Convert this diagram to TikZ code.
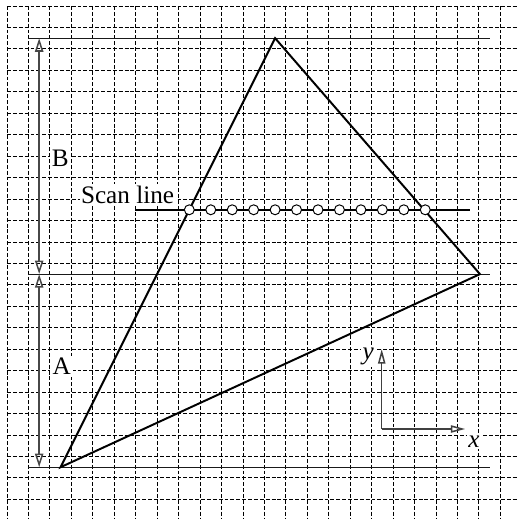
\documentclass[tikz,border=0pt]{standalone}
\usepackage{fontspec}
\setmainfont{Liberation Serif}
\usetikzlibrary{arrows.meta}
\begin{document}
\begin{tikzpicture}[x=0.5cm,y=-0.5cm,
  gridline/.style={black, line width=0.55pt, dash pattern=on 2.6pt off 1.3pt},
  edge/.style={black, line width=1.3pt, line join=miter},
  refline/.style={black!90, line width=0.7pt},
  dimline/.style={black!72, line width=1pt, {Triangle[open,length=9pt,width=5.5pt]}-{Triangle[open,length=9pt,width=5.5pt]}},
  axisline/.style={black!75, line width=1pt, -{Triangle[open,length=9.5pt,width=4.8pt]}},
  scanline/.style={black, line width=1.3pt},
  sample/.style={circle, draw=black, fill=white, line width=0.65pt, minimum size=6.6pt, inner sep=0pt},
  lbl/.style={font=\fontsize{16.7}{20}\selectfont, fill=white, inner sep=1.5pt},
]
\useasboundingbox (-0.326,-0.28) rectangle (23.823,23.916);
% grid
\foreach \i in {0,...,23} {
  \draw[gridline] (\i,0) -- (\i,23.916);
  \draw[gridline] (0,\i) -- (23.823,\i);
}
% reference lines
\coordinate (h1a) at (1,1.5);  \coordinate (h1b) at (22.5,1.5);
\coordinate (h2a) at (1,12.5); \coordinate (h2b) at (22.5,12.5);
\coordinate (h3a) at (1,21.5); \coordinate (h3b) at (22.5,21.5);
\draw[refline] (h1a) -- (h1b);
\draw[refline] (h2a) -- (h2b);
\draw[refline] (h3a) -- (h3b);
% dimension arrows
\coordinate (d1) at (1.5,1.5);
\coordinate (d2) at (1.5,12.5);
\coordinate (d3) at (1.5,21.5);
\draw[dimline] (d1) -- (d2);
\draw[dimline] (d2) -- (d3);
\node[lbl, anchor=base west] (labB) at (1.97,7.5) {B};
\node[lbl, anchor=base west] (labA) at (2.01,17.2) {A};
% triangle
\coordinate (T) at (12.5,1.5);
\coordinate (R) at (22.05,12.5);
\coordinate (L) at (2.5,21.5);
\draw[edge] (L) -- (T) -- (R) -- cycle;
% scan line
\coordinate (s1) at (5.97,9.5);
\coordinate (s2) at (21.6,9.5);
\draw[scanline] (s1) -- (s2);
\foreach \k in {0,...,11} {
  \node[sample] (c\k) at ({8.5+\k},9.5) {};
}
\node[lbl, anchor=base, inner sep=1pt] (scan) at (5.62,9.2) {Scan line};
% axes
\coordinate (O) at (17.47,19.72);
\coordinate (Ytip) at (17.47,16.0);
\coordinate (Xtip) at (21.36,19.72);
\draw[axisline] (O) -- (Ytip);
\draw[axisline] (O) -- (Xtip);
\node[lbl, inner sep=1pt] (ylab) at (16.84,16.35) {\itshape y};
\node[lbl, inner sep=1pt] (xlab) at (21.77,20.3) {\itshape x};
\end{tikzpicture}
\end{document}
